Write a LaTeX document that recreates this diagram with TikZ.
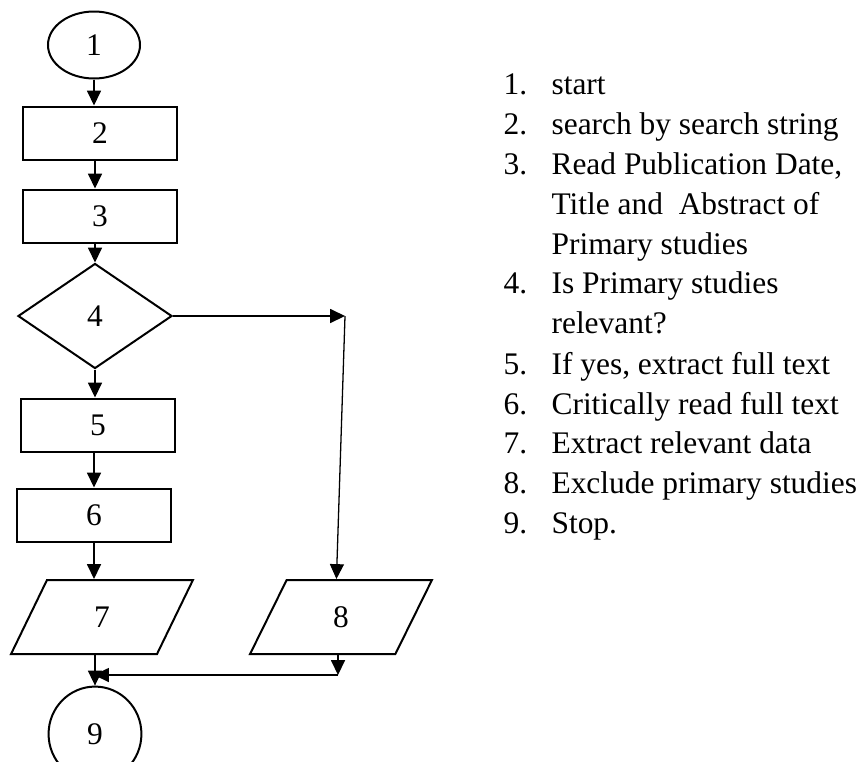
\documentclass[tikz,border=0pt]{standalone}
\usepackage{fontspec}
\setmainfont{Liberation Serif}
\usetikzlibrary{arrows.meta,positioning,shapes.geometric}

\begin{document}
\begin{tikzpicture}[x=0.35pt,y=-0.35pt,font=\fontsize{11}{14}\selectfont,
  term/.style={draw,ellipse,line width=0.7pt,inner sep=0pt},
  box/.style={draw,line width=0.7pt,minimum width=53.9pt,minimum height=18.55pt,inner sep=0pt},
  dec/.style={draw,diamond,line width=0.7pt,minimum width=53.9pt,minimum height=36.75pt,inner sep=0pt},
  io/.style={draw,trapezium,trapezium left angle=76,trapezium right angle=104,
    trapezium stretches=true,line width=0.7pt,minimum width=63.7pt,minimum height=25.9pt,inner sep=0pt},
  arr/.style={line width=0.45pt,-{Triangle[length=5.2pt,width=4.9pt]}}]
\useasboundingbox (0,0) rectangle (866,761);
\node[term,minimum width=32.2pt,minimum height=23.45pt] (n1) at (94,45) {1};
\node[box] (n2) at (100,133) {2};
\node[box] (n3) at (100,216) {3};
\node[dec] (n4) at (95,316) {4};
\node[box] (n5) at (98,425) {5};
\node[box] (n6) at (94,515) {6};
\node[io] (n7) at (102,617) {7};
\node[io] (n8) at (341,617) {8};
\node[term,minimum width=32.5pt,minimum height=33.2pt] (n9) at (95,734) {9};
\coordinate (c4) at (345,316);
\coordinate (c8) at (338,675);
\coordinate (c9) at (94,675);
\draw[arr] (n1.south) -- (n1.south |- n2.north);
\draw[arr] (n2.south -| n4) -- (n3.north -| n4);
\draw[arr] (n3.south -| n4) -- (n4.north);
\draw[arr] (n4.south) -- (n4.south |- n5.north);
\draw[arr] (n5.south -| n6) -- (n6.north);
\draw[arr] (n6.south) -- (n6.south |- n7.north);
\draw[arr] (n9.north |- n7.south) -- (n9.north);
\draw[arr] (n4.east) -- (c4);
\draw[arr] (c4) -- ([xshift=-1.6pt]n8.north);
\draw[arr] (n8.south -| c8) -- (c8);
\draw[arr] (c8) -- (c9);
\node[anchor=base west,inner sep=0pt] (list) at (503,94) {%
\begin{tabular}[t]{@{}p{16.8pt}@{}l@{}}
1. & start\\
2. & search by search string\\
3. & Read Publication Date,\\
   & Title and~ Abstract of\\
   & Primary studies\\
4. & Is Primary studies\\
   & relevant?\\
5. & If yes, extract full text\\
6. & Critically read full text\\
7. & Extract relevant data\\
8. & Exclude primary studies\\
9. & Stop.
\end{tabular}};
\end{tikzpicture}
\end{document}
